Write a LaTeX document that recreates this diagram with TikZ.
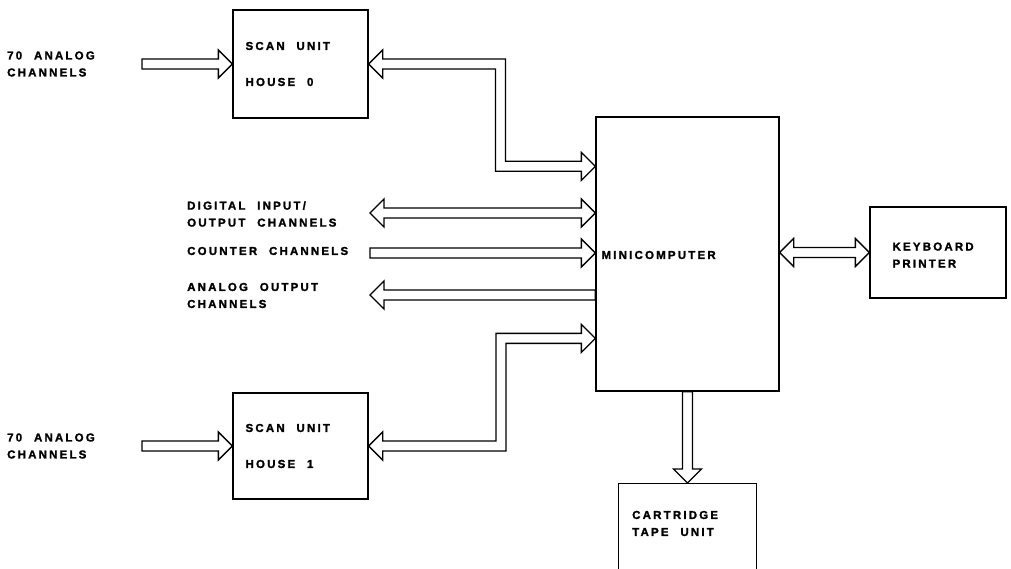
\documentclass[tikz,border=0pt]{standalone}
\usepackage{fontspec}
\newfontfamily\labfont[LetterSpace=19,WordSpace=2.2,FakeBold=1.6]{Liberation Sans Bold}
\usetikzlibrary{calc}
\def\BW{5pt}
\def\BH{14pt}
\def\BL{14pt}
\begin{document}
\begin{tikzpicture}[x=1pt,y=-1pt,
  lw/.style={line width=1.3pt},
  txt/.style={font=\labfont\fontsize{11.5}{17}\selectfont},
  box/.style={draw, lw, inner sep=0pt},
  lab/.style={txt, align=left, inner sep=0pt, anchor=west},
  bus/.style={draw, lw, fill=white, line join=miter}]
\useasboundingbox (0,0) rectangle (1011,569);

% boxes
\node[box, minimum width=135pt, minimum height=108pt] (h0) at (300.5,64) {};
\node[box, minimum width=135pt, minimum height=106pt] (h1) at (300.5,446) {};
\node[box, minimum width=183pt, minimum height=274pt] (mc) at (687.5,254) {};
\node[box, minimum width=136pt, minimum height=91pt] (kp) at (938,252.5) {};
\node[box, minimum width=138pt, minimum height=130pt, anchor=north] (ct) at (687.5,483) {};

% texts
\node[lab] (s0) at ($(h0.west)+(13,0)$) {SCAN UNIT\\[19pt]HOUSE 0};
\node[lab] (s1) at ($(h1.west)+(13,0)$) {SCAN UNIT\\[19pt]HOUSE 1};
\node[lab] (mct) at ($(mc.west)+(6,1)$) {MINICOMPUTER};
\node[lab] (kpt) at ($(kp.west)+(23,2.5)$) {KEYBOARD\\PRINTER};
\node[lab] (lct) at (632,523.5) {CARTRIDGE\\TAPE UNIT};
\node[lab] (l0) at (7,64) {70 ANALOG\\CHANNELS};
\node[lab] (l1) at (7,446) {70 ANALOG\\CHANNELS};
\node[lab] (ldio) at (187,214) {DIGITAL INPUT/\\OUTPUT CHANNELS};
\node[lab] (lcnt) at (187,251) {COUNTER CHANNELS};
\node[lab] (laout) at (187,295.5) {ANALOG OUTPUT\\CHANNELS};

% free ends and bends
\coordinate (in0) at (142,64);
\coordinate (in1) at (142,446);
\coordinate (k0) at (500.5,0);
\coordinate (k1) at (501,0);
\coordinate (m0) at ($(mc.north west)+(0,50)$);
\coordinate (m1) at ($(mc.north west)+(0,222)$);
\coordinate (dio) at (370,213);
\coordinate (cnt) at (370,253);
\coordinate (aout) at (370,295);

% input arrows into scan units
\draw[bus] let \p1=(in0), \p2=(h0.west) in
  (\x1,\y1+\BW) -- (\x2-\BL,\y1+\BW) -- (\x2-\BL,\y1+\BH) -- (\x2,\y1)
  -- (\x2-\BL,\y1-\BH) -- (\x2-\BL,\y1-\BW) -- (\x1,\y1-\BW) -- cycle;
\draw[bus] let \p1=(in1), \p2=(h1.west) in
  (\x1,\y1+\BW) -- (\x2-\BL,\y1+\BW) -- (\x2-\BL,\y1+\BH) -- (\x2,\y1)
  -- (\x2-\BL,\y1-\BH) -- (\x2-\BL,\y1-\BW) -- (\x1,\y1-\BW) -- cycle;

% bent bus house 0 <-> minicomputer
\draw[bus] let \p1=(h0.east), \p2=(m0), \p3=(k0) in
  (\x1+\BL,\y1+\BW) -- (\x3+\BW,\y1+\BW) -- (\x3+\BW,\y2+\BW) -- (\x2-\BL,\y2+\BW)
  -- (\x2-\BL,\y2+\BH) -- (\x2,\y2) -- (\x2-\BL,\y2-\BH) -- (\x2-\BL,\y2-\BW)
  -- (\x3-\BW,\y2-\BW) -- (\x3-\BW,\y1-\BW) -- (\x1+\BL,\y1-\BW)
  -- (\x1+\BL,\y1-\BH) -- (\x1,\y1) -- (\x1+\BL,\y1+\BH) -- cycle;

% bent bus house 1 <-> minicomputer
\draw[bus] let \p1=(h1.east), \p2=(m1), \p3=(k1) in
  (\x1+\BL,\y1+\BW) -- (\x3-\BW,\y1+\BW) -- (\x3-\BW,\y2+\BW) -- (\x2-\BL,\y2+\BW)
  -- (\x2-\BL,\y2+\BH) -- (\x2,\y2) -- (\x2-\BL,\y2-\BH) -- (\x2-\BL,\y2-\BW)
  -- (\x3+\BW,\y2-\BW) -- (\x3+\BW,\y1-\BW) -- (\x1+\BL,\y1-\BW)
  -- (\x1+\BL,\y1-\BH) -- (\x1,\y1) -- (\x1+\BL,\y1+\BH) -- cycle;

% digital I/O (double headed)
\draw[bus] let \p1=(dio), \p2=(mc.west |- dio) in
  (\x1,\y1) -- (\x1+\BL,\y1+\BH) -- (\x1+\BL,\y1+\BW) -- (\x2-\BL,\y1+\BW)
  -- (\x2-\BL,\y1+\BH) -- (\x2,\y1) -- (\x2-\BL,\y1-\BH) -- (\x2-\BL,\y1-\BW)
  -- (\x1+\BL,\y1-\BW) -- (\x1+\BL,\y1-\BH) -- cycle;

% counter channels (in)
\draw[bus] let \p1=(cnt), \p2=(mc.west |- cnt) in
  (\x1,\y1+\BW) -- (\x2-\BL,\y1+\BW) -- (\x2-\BL,\y1+\BH) -- (\x2,\y1)
  -- (\x2-\BL,\y1-\BH) -- (\x2-\BL,\y1-\BW) -- (\x1,\y1-\BW) -- cycle;

% analog output (out)
\draw[bus] let \p1=(aout), \p2=(mc.west |- aout) in
  (\x1,\y1) -- (\x1+\BL,\y1+\BH) -- (\x1+\BL,\y1+\BW) -- (\x2,\y1+\BW)
  -- (\x2,\y1-\BW) -- (\x1+\BL,\y1-\BW) -- (\x1+\BL,\y1-\BH) -- cycle;

% minicomputer <-> keyboard printer
\draw[bus] let \p1=(mc.east |- kp.west), \p2=(kp.west) in
  (\x1,\y1) -- (\x1+\BL,\y1+\BH) -- (\x1+\BL,\y1+\BW) -- (\x2-\BL,\y1+\BW)
  -- (\x2-\BL,\y1+\BH) -- (\x2,\y1) -- (\x2-\BL,\y1-\BH) -- (\x2-\BL,\y1-\BW)
  -- (\x1+\BL,\y1-\BW) -- (\x1+\BL,\y1-\BH) -- cycle;

% minicomputer -> cartridge tape unit
\draw[bus] let \p1=(mc.south), \p2=(ct.north) in
  (\x1-\BW,\y1) -- (\x1-\BW,\y2+\BL) -- (\x1-\BH,\y2+\BL) -- (\x2,\y2)
  -- (\x1+\BH,\y2+\BL) -- (\x1+\BW,\y2+\BL) -- (\x1+\BW,\y1) -- cycle;
\end{tikzpicture}
\end{document}
